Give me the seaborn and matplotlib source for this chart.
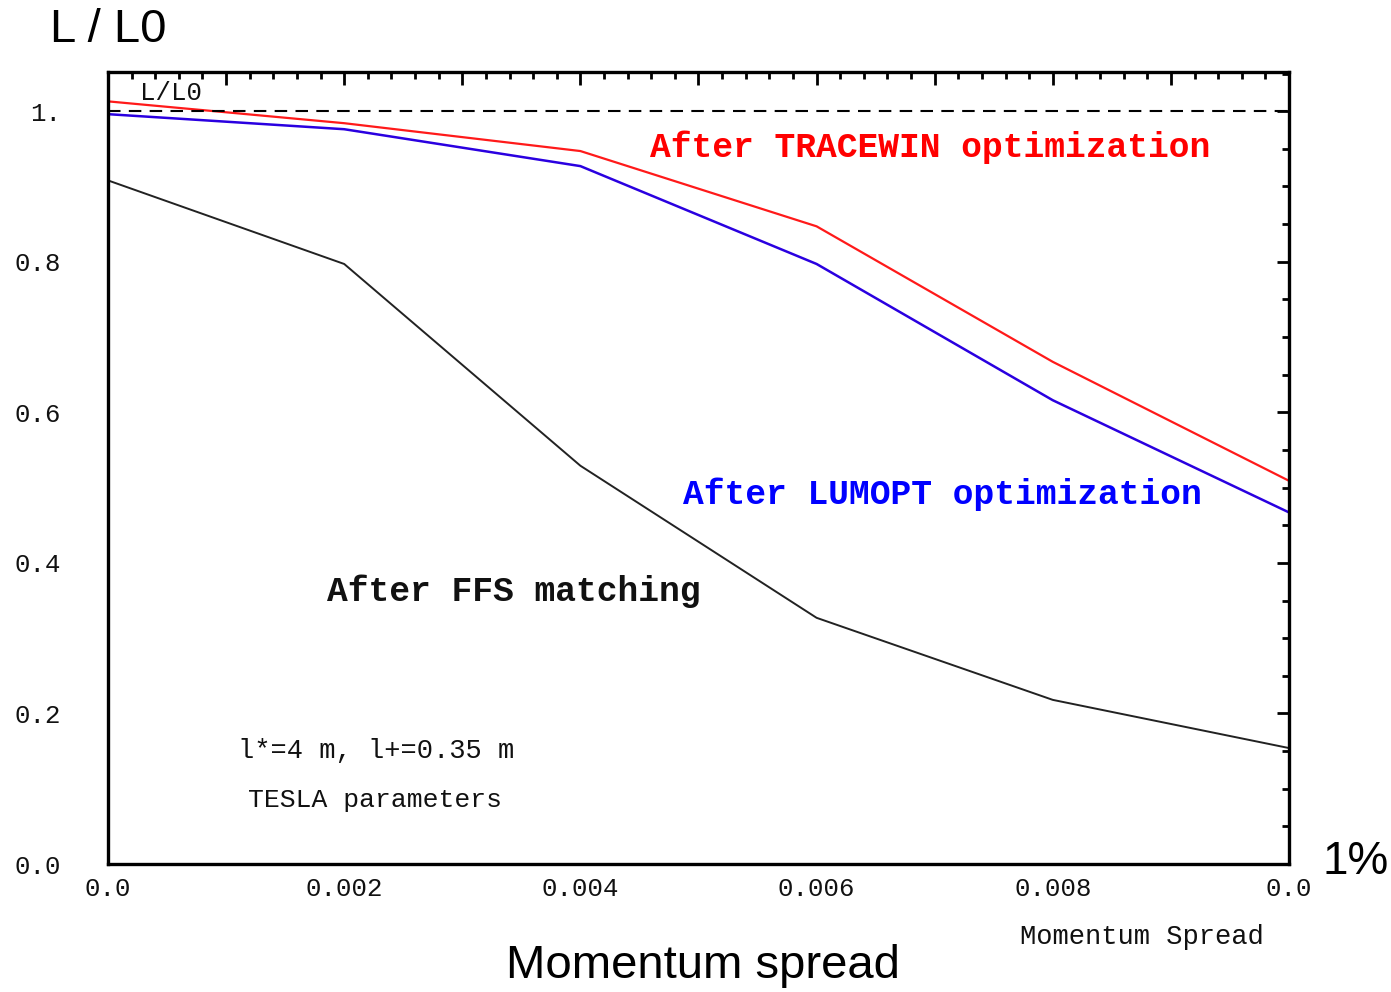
import numpy as np
import pandas as pd
import matplotlib
matplotlib.use("Agg")
import matplotlib.pyplot as plt
from matplotlib.ticker import MultipleLocator, FixedLocator
import seaborn as sns

# ---- data ----
momentum = [0.0, 0.002, 0.004, 0.006, 0.008, 0.010]
tracewin = [1.013, 0.984, 0.947, 0.847, 0.667, 0.509]
lumopt = [0.996, 0.976, 0.927, 0.797, 0.616, 0.467]
ffs = [0.908, 0.797, 0.529, 0.327, 0.218, 0.154]
xtick_vals = [0.0, 0.001, 0.002, 0.003, 0.004, 0.005, 0.006, 0.007, 0.008, 0.009, 0.010]
xtick_labels = ["0.0", "", "0.002", "", "0.004", "", "0.006", "", "0.008", "", "0.0"]
ytick_vals = [0.0, 0.2, 0.4, 0.6, 0.8, 1.0]
ytick_labels = ["0.0", "0.2", "0.4", "0.6", "0.8", "1."]

sns.set_theme(style="white")
plt.rcParams['font.family'] = ['Liberation Mono', 'DejaVu Sans Mono']

fig = plt.figure(figsize=(13.91, 9.92), dpi=100)
ax = fig.add_axes([108/1391, 128/992, (1289-108)/1391, (864-72)/992])

df = pd.DataFrame({"x": momentum, "tracewin": tracewin, "lumopt": lumopt, "ffs": ffs})
sns.lineplot(data=df, x="x", y="tracewin", ax=ax, color="#ff1a1a", linewidth=1.6)
sns.lineplot(data=df, x="x", y="lumopt", ax=ax, color="#2a00e0", linewidth=1.8)
sns.lineplot(data=df, x="x", y="ffs", ax=ax, color="#222222", linewidth=1.4)
ax.axhline(1.0, color="black", linestyle=(0, (6, 4)), linewidth=1.5)

ax.set_xlim(0.0, 0.010)
ax.set_ylim(0.0, 1.052)
ax.set_xlabel("")
ax.set_ylabel("")

ax.xaxis.set_major_locator(FixedLocator(xtick_vals))
ax.set_xticklabels(xtick_labels)
ax.xaxis.set_minor_locator(MultipleLocator(0.0002))
ax.yaxis.set_major_locator(FixedLocator(ytick_vals))
ax.set_yticklabels(ytick_labels)
ax.yaxis.set_minor_locator(MultipleLocator(0.05))

ax.tick_params(which="major", direction="in", length=9, width=2, top=True, right=True,
               labelsize=18.5, color="black", labelcolor="#111111")
ax.tick_params(which="minor", direction="in", length=5, width=2, top=True, right=True, color="black")
ax.tick_params(axis="y", which="major", pad=34)
ax.tick_params(axis="x", which="major", pad=9)
for s in ax.spines.values():
    s.set_color("black")
    s.set_linewidth(2.4)

mono = ['Liberation Mono', 'DejaVu Sans Mono']
ax.text(0.000271, 1.024, "L/L0", fontsize=18.5, family=mono, va="center", ha="left", color="#111111")
ax.text(0.004589, 0.952, "After TRACEWIN optimization", fontsize=24.9, family=mono,
        fontweight="bold", color="#ff0000", va="center", ha="left")
ax.text(0.004869, 0.491, "After LUMOPT optimization", fontsize=24.9, family=mono,
        fontweight="bold", color="#0000ff", va="center", ha="left")
ax.text(0.001854, 0.3625, "After FFS matching", fontsize=24.9, family=mono,
        fontweight="bold", color="#111111", va="center", ha="left")
ax.text(0.0011, 0.150, "l*=4 m, l+=0.35 m", fontsize=19.5, family=mono, color="#111111",
        va="center", ha="left")
ax.text(0.001185, 0.085, "TESLA parameters", fontsize=19, family=mono, color="#111111",
        va="center", ha="left")

fig.text(1020/1391, 1 - 937/992, "Momentum Spread", fontsize=19.5, family=mono,
         color="#111111", va="center", ha="left")

sans = ['Liberation Sans', 'DejaVu Sans']
fig.text(50/1391, 1 - 30/992, "L / L0", fontsize=34, family=sans, color="black",
         va="center", ha="left")
fig.text(1323/1391, 1 - 862/992, "1%", fontsize=33, family=sans, color="black",
         va="center", ha="left")
fig.text(703/1391, 1 - 966/992, "Momentum spread", fontsize=34, family=sans, color="black",
         va="center", ha="center")

fig.savefig("out.png", dpi=100)
